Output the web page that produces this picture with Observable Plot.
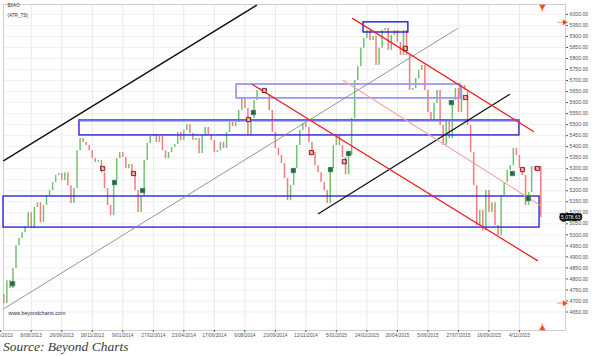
<!DOCTYPE html>
<html><head><meta charset="utf-8">
<script src="https://cdn.jsdelivr.net/npm/d3@7"></script>
<script src="https://cdn.jsdelivr.net/npm/@observablehq/plot@0.6"></script>
<style>
body{margin:0;background:#fff;}
#chart svg{display:block}
#caption{font-family:"Liberation Serif","DejaVu Serif",serif;font-style:italic;font-size:13.5px;color:#3a3a3a;margin:0 0 0 3px;line-height:15px;}
</style></head><body>
<div id="chart"></div>
<div id="caption">Source: Beyond Charts</div>
<script>
// Price samples (every ~3.5 trading days), $XAO
const firstOpen = 4730;
const closes = [
4688,4792,4756,4847,4951,4983,5010,5037,5101,5028,
5124,5146,5055,5133,5178,5201,5237,5269,5278,5246,
5282,5223,5142,5210,5382,5437,5419,5405,5382,5346,
5328,5337,5282,5210,5133,5087,5246,5346,5373,5351,
5301,5319,5282,5201,5101,5174,5337,5414,5446,5455,
5419,5446,5382,5346,5373,5396,5410,5464,5428,5473,
5500,5460,5428,5437,5369,5451,5487,5455,5428,5373,
5382,5419,5392,5464,5510,5491,5510,5564,5619,5573,
5451,5528,5610,5655,5664,5641,5637,5564,5464,5392,
5360,5323,5255,5155,5223,5301,5405,5473,5505,5487,
5419,5373,5314,5282,5237,5201,5142,5301,5405,5451,
5405,5351,5273,5360,5528,5700,5764,5846,5891,5927,
5882,5900,5768,5846,5927,5936,5837,5905,5927,5873,
5814,5927,5814,5655,5664,5709,5746,5768,5655,5555,
5519,5596,5655,5496,5405,5519,5437,5610,5664,5555,
5678,5655,5496,5373,5223,5042,5110,5019,5201,5101,
5146,5042,4996,5178,5237,5292,5314,5392,5360,5301,
5269,5133,5192,5310,5292,5310,5078.63
];
const lastPrice = 5078.63;

// x-axis ticks (sample index) and labels
const tickIdx = [-1,9,19,29,39,49,59,69,79,89,99,109,119,129,139,149,159,169];
const tickLabels = ["20/06/2013","8/08/2013","26/09/2013","18/11/2013","9/01/2014","27/02/2014","23/04/2014","17/06/2014","6/08/2014","23/09/2014","12/11/2014","5/01/2015","24/02/2015","20/04/2015","5/06/2015","27/07/2015","16/09/2015","4/11/2015"];
const yTicks = [4650,4700,4750,4800,4850,4900,4950,5000,5050,5100,5150,5200,5250,5300,5350,5400,5450,5500,5550,5600,5650,5700,5750,5800,5850,5900,5950,6000];

// trend lines: [index, price] endpoints
const blackUpper = [[0, 5337], [82.8, 6041]];
const blackLower = [[103.1, 5096], [165.7, 5637]];
const greyChannel = [[0, 4665], [148.7, 5936]];
const redLower = [[81.5, 5682], [174.9, 4883]];
const redUpper = [[114.3, 5982], [173.6, 5469]];
const pinkMid = [[111.3, 5700], [175.9, 5133]];

// zones: [x1, x2, low, high]
const zoneTop = [117.9, 132.6, 5918, 5964];
const zoneUpper = [76.3, 149.7, 5619, 5682];
const zoneMid = [24.8, 169.0, 5451, 5519];
const zoneLow = [-0.1, 175.6, 5033, 5174];

// signals
const buyIdx = [2.9, 36.3, 45.5, 81.8, 94.9, 107.1, 113.0, 146.7, 166.7, 171.9];
const buyPrice = [4778, 5237, 5201, 5555, 5292, 5296, 5369, 5600, 5278, 5164];
const sellIdx = [32.4, 42.5, 80.2, 85.4, 100.8, 111.6, 131.6, 151.3, 170.0, 174.9];
const sellPrice = [5301, 5278, 5523, 5655, 5373, 5332, 5846, 5623, 5296, 5301];

// range markers
const markIdx = 176.5;
const rangeHigh = 5964;
const rangeLow = 4690;

const xDomain = [-0.1, 184.1];
const yDomain = [4566, 6045];

const bars = closes.map((c, i) => ({i, open: i ? closes[i - 1] : firstOpen, close: c}));
const labelOf = new Map(tickIdx.map((t, k) => [t, tickLabels[k]]));
const zone = z => [{x1: z[0], x2: z[1], y1: z[2], y2: z[3]}];
const buys = buyIdx.map((x, k) => ({x, y: buyPrice[k]}));
const sells = sellIdx.map((x, k) => ({x, y: sellPrice[k]}));
const ln = (data, o) => Plot.line(data, {x: d => d[0], y: d => d[1], ...o});

const chart = Plot.plot({
  width: 597, height: 339,
  marginLeft: 3, marginRight: 32, marginTop: 4, marginBottom: 9,
  style: {fontFamily: "'Liberation Sans', Arial, sans-serif", background: "#fff"},
  x: {domain: xDomain},
  y: {domain: yDomain},
  marks: [
    Plot.gridX(tickIdx.filter(t => t >= 0), {stroke: "#e8e8e8", strokeOpacity: 1}),
    Plot.gridY(yTicks, {stroke: "#f0f0f0", strokeOpacity: 1}),
    Plot.frame({stroke: "#cfcfcf"}),
    Plot.text(["$XAO"], {frameAnchor: "top-left", dx: 4, dy: -1, lineAnchor: "top", textAnchor: "start", fontSize: 4.6, fill: "#333"}),
    Plot.text(["(ATR_TS)"], {frameAnchor: "top-left", dx: 4, dy: 9, lineAnchor: "top", textAnchor: "start", fontSize: 4.6, fill: "#333"}),
    Plot.text(["www.beyondcharts.com"], {frameAnchor: "bottom-left", dx: 5, dy: -16, textAnchor: "start", fontSize: 5.4, fill: "#333"}),
    // candles
    Plot.ruleX(bars, {x: "i", y1: "open", y2: "close", stroke: d => d.close >= d.open ? "#72c272" : "#f37c7c", strokeWidth: 1.5}),
    // zones
    Plot.rect(zone(zoneLow), {x1: "x1", x2: "x2", y1: "y1", y2: "y2", fill: "none", stroke: "#2a2ae0", strokeWidth: 1.4}),
    Plot.rect(zone(zoneMid), {x1: "x1", x2: "x2", y1: "y1", y2: "y2", fill: "none", stroke: "#2525d8", strokeWidth: 1.4}),
    Plot.ruleY([zoneMid[3]], {x1: zoneMid[0], x2: zoneMid[1], stroke: "#6f6ff5", strokeWidth: 2}),
    Plot.rect(zone(zoneUpper), {x1: "x1", x2: "x2", y1: "y1", y2: "y2", fill: "none", stroke: "#9a9af5", strokeWidth: 1.8}),
    Plot.rect(zone(zoneTop), {x1: "x1", x2: "x2", y1: "y1", y2: "y2", fill: "none", stroke: "#2020cc", strokeWidth: 1.4}),
    // trend lines
    ln(greyChannel, {stroke: "#8a8a8a", strokeWidth: 0.9}),
    ln(blackUpper, {stroke: "#111", strokeWidth: 1.4}),
    ln(blackLower, {stroke: "#111", strokeWidth: 1.3}),
    ln(pinkMid, {stroke: "#f4a3a3", strokeWidth: 1.1}),
    ln(redLower, {stroke: "#ee2222", strokeWidth: 1.3}),
    ln(redUpper, {stroke: "#ee2222", strokeWidth: 1.3}),
    // signals
    Plot.dot(buys, {x: "x", y: "y", symbol: "square", r: 2.4, fill: "#4cb276", stroke: "#1c5a32", strokeWidth: 0.7}),
    Plot.text(buys, {x: "x", y: "y", text: () => "B", fontSize: 4.3, fontWeight: "bold", fill: "#0d3d1e"}),
    Plot.dot(sells, {x: "x", y: "y", symbol: "square", r: 2.4, fill: "#d83038", stroke: "#6a0d12", strokeWidth: 0.7}),
    Plot.text(sells, {x: "x", y: "y", text: () => "S", fontSize: 4.3, fontWeight: "bold", fill: "#fff"}),
    // range markers
    Plot.ruleX([markIdx], {y1: yDomain[1], y2: yDomain[1] - 36, stroke: "#f7b6a2", strokeWidth: 1.5}),
    Plot.ruleX([markIdx], {y1: yDomain[0], y2: yDomain[0] + 32, stroke: "#f7b6a2", strokeWidth: 1.5}),
    Plot.dot([markIdx], {x: d => d, frameAnchor: "top", dy: 2, symbol: "triangle", rotate: 180, r: 2.4, fill: "#ff4a1a"}),
    Plot.dot([markIdx], {x: d => d, frameAnchor: "bottom", dy: -2, symbol: "triangle", r: 2.4, fill: "#ff4a1a"}),
    Plot.ruleY([rangeHigh, rangeLow], {x1: xDomain[1] - 2.6, x2: xDomain[1], stroke: "#f7b6a2", strokeWidth: 1.5}),
    Plot.dot([rangeHigh, rangeLow], {y: d => d, frameAnchor: "right", dx: -1, symbol: "triangle", rotate: 90, r: 2.2, fill: "#ff4a1a"}),
    // axes
    Plot.axisY(yTicks, {anchor: "right", tickSize: 2, tickPadding: 2, tickFormat: d => d.toFixed(2), fontSize: 5.2, color: "#555", label: null}),
    Plot.axisX(tickIdx, {anchor: "bottom", tickSize: 2, tickPadding: 1, tickFormat: d => labelOf.get(d), fontSize: 4.8, color: "#555", label: null}),
    // last price
    Plot.text([lastPrice], {y: d => d, frameAnchor: "right", dx: 15, text: d => d3.format(",.2f")(d), fontSize: 5, fill: "#fff", stroke: "#000", strokeWidth: 3.5, paintOrder: "stroke", strokeLinejoin: "miter"})
  ]
});
document.getElementById("chart").appendChild(chart);
</script>
</body></html>
